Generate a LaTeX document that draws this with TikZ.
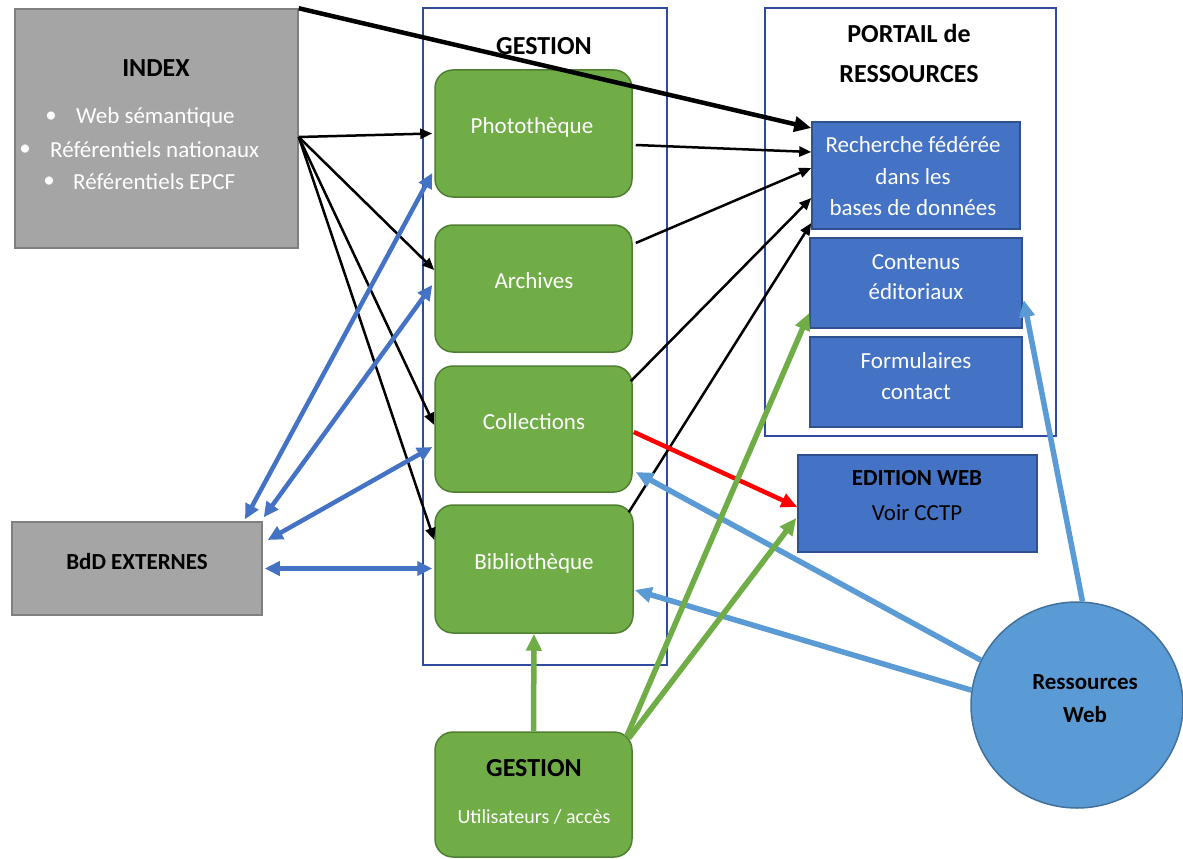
\documentclass[tikz,border=0pt]{standalone}
\usepackage{fontspec}
\setmainfont{Carlito}
\usetikzlibrary{arrows.meta,shapes.geometric}
\definecolor{grayfill}{HTML}{A5A5A5}
\definecolor{grayline}{HTML}{7F7F7F}
\definecolor{gfill}{HTML}{70AD47}
\definecolor{gline}{HTML}{507E32}
\definecolor{bfill}{HTML}{4472C4}
\definecolor{bline}{HTML}{2F528F}
\definecolor{cfill}{HTML}{5B9BD5}
\definecolor{cline}{HTML}{41719C}
\definecolor{framecol}{HTML}{2F4A9E}
\begin{document}
\begin{tikzpicture}[x=1pt,y=-1pt,
  graybox/.style={draw=grayline,fill=grayfill,line width=1.5pt,inner sep=0pt},
  greenbox/.style={draw=gline,fill=gfill,line width=1.5pt,rounded corners=18pt,inner sep=0pt},
  bluebox/.style={draw=bline,fill=bfill,line width=1.5pt,inner sep=0pt},
  framebox/.style={draw=framecol,line width=1.3pt,inner sep=0pt},
  wt/.style={text=white,font=\fontsize{23}{31}\selectfont,inner sep=0pt,align=center},
  bt/.style={text=black,font=\fontsize{23}{31}\selectfont,inner sep=0pt,align=center},
  title/.style={text=black,font=\bfseries\fontsize{26}{40}\selectfont,inner sep=0pt,align=center},
  btitle/.style={text=black,font=\bfseries\fontsize{23}{33}\selectfont,inner sep=0pt,align=center},
  blk/.style={draw=black,line width=2.5pt,-{Triangle[length=12pt,width=10pt]}},
  blkthick/.style={draw=black,line width=4.5pt,-{Triangle[length=17pt,width=15pt]}},
  dbl/.style={draw=bfill,line width=4.5pt,{Triangle[length=15pt,width=14pt]}-{Triangle[length=15pt,width=14pt]}},
  lbl/.style={draw=cfill,line width=5.5pt,-{Triangle[length=17pt,width=15pt]}},
  grn/.style={draw=gfill,line width=5.5pt,-{Triangle[length=17pt,width=15pt]}},
  rd/.style={draw=red,line width=4.5pt,-{Triangle[length=16pt,width=14pt]}}
]
\useasboundingbox (0,0) rectangle (1183,859);
\fill[white] (0,0) rectangle (1183,859);

% containers
\node[framebox,minimum width=244pt,minimum height=657pt] (gframe) at (545,336.5) {};
\node[framebox,minimum width=291pt,minimum height=428pt] (pframe) at (910.5,222) {};
\node[title] (gtitle) at (544,46) {GESTION};
\node[title] (ptitle) at (909,53) {PORTAIL de\\RESSOURCES};

% INDEX
\node[graybox,minimum width=283pt,minimum height=239pt] (index) at (156.5,128.5) {};
\node[title] (indexT) at (156,68) {INDEX};
\node[wt] (b1) at (51,117) {•};
\node[wt] (b2) at (25,150) {•};
\node[wt] (b3) at (49,182) {•};
\node[wt,anchor=west] (i1) at (76,117) {Web sémantique};
\node[wt,anchor=west] (i2) at (50,150) {Référentiels nationaux};
\node[wt,anchor=west] (i3) at (73,182) {Référentiels EPCF};

% BdD
\node[graybox,minimum width=250pt,minimum height=93pt] (bdd) at (137,568.5) {};
\node[btitle] (bddT) at (137,562) {BdD EXTERNES};

% green boxes
\node[greenbox,minimum width=197pt,minimum height=127pt] (photo) at (533.5,133.5) {};
\node[wt] (photoT) at (532,127) {Photothèque};
\node[greenbox,minimum width=197pt,minimum height=127pt] (arch) at (533.5,288.5) {};
\node[wt] (archT) at (534,281) {Archives};
\node[greenbox,minimum width=197pt,minimum height=126pt] (coll) at (533.5,429) {};
\node[wt] (collT) at (534,422) {Collections};
\node[greenbox,minimum width=198pt,minimum height=128pt] (bib) at (534,569) {};
\node[wt] (bibT) at (534,563) {Bibliothèque};
\node[greenbox,minimum width=197pt,minimum height=125pt] (users) at (533.5,794.5) {};
\node[title] (usersT) at (534,768) {GESTION};
\node[wt,font=\fontsize{20}{24}\selectfont] (usersS) at (534,817) {Utilisateurs / accès};

% blue boxes
\node[bluebox,minimum width=208pt,minimum height=107pt] (rech) at (916,175.5) {};
\node[wt,font=\fontsize{23}{31.5}\selectfont] (rechT) at (913,176.5) {Recherche fédérée\\dans les\\bases de données};
\node[bluebox,minimum width=212pt,minimum height=90pt] (cont) at (916,283) {};
\node[wt,font=\fontsize{23}{30}\selectfont] (contT) at (916,277) {Contenus\\éditoriaux};
\node[bluebox,minimum width=212pt,minimum height=90pt] (form) at (916,382) {};
\node[wt,font=\fontsize{23}{31}\selectfont] (formT) at (916,376.5) {Formulaires\\contact};
\node[bluebox,minimum width=239pt,minimum height=97pt] (edit) at (917.5,503.5) {};
\node[btitle] (editT) at (917,478) {EDITION WEB};
\node[bt] (editS) at (917,513) {Voir CCTP};

% circle
\node[ellipse,draw=cline,fill=cfill,line width=1.5pt,minimum width=212pt,minimum height=206pt,inner sep=0pt] (web) at (1077,705) {};
\node[btitle] (webT) at (1085,698.5) {Ressources\\Web};

% black arrows
\draw[blkthick] (index.north east) -- ([yshift=47.5pt]rech.west);
\draw[blk] ([yshift=-8.5pt]index.east) -- ([xshift=-2pt]photo.west);
\draw[blk] ([yshift=-8.5pt]index.east) -- ([yshift=18.5pt]arch.west);
\draw[blk] ([yshift=-8.5pt]index.east) -- ([yshift=4pt]coll.west);
\draw[blk] ([yshift=-8.5pt]index.east) -- ([yshift=29pt]bib.west);
\draw[blk] ([xshift=3pt,yshift=-11.5pt]photo.east) -- ([yshift=23.5pt]rech.west);
\draw[blk] ([xshift=3pt,yshift=45.5pt]arch.east) -- ([yshift=7.5pt]rech.west);
\draw[blk] ([xshift=-2pt,yshift=-16pt]coll.north east) -- ([yshift=-22.5pt]rech.west);
\draw[blk] ([xshift=-5pt,yshift=-8pt]bib.north east) -- ([yshift=-47.5pt]rech.west);

% blue double arrows
\draw[dbl] ([xshift=108pt,yshift=2pt]bdd.north) -- ([xshift=-2pt,yshift=-39.5pt]photo.west);
\draw[dbl] ([xshift=1pt,yshift=4pt]bdd.north east) -- ([xshift=-2pt,yshift=3.5pt]arch.west);
\draw[dbl] ([xshift=5pt,yshift=28.5pt]bdd.east) -- ([xshift=-2pt,yshift=-18pt]coll.west);
\draw[dbl] ([xshift=2pt]bdd.east) -- ([xshift=-2pt,yshift=0.5pt]bib.west);

% red arrow
\draw[rd] ([xshift=1pt,yshift=-3pt]coll.east) -- ([yshift=-3.5pt]edit.west);

% light blue arrows
\draw[lbl] (web.155) -- ([xshift=3pt,yshift=-43pt]coll.east);
\draw[lbl] (web.172) -- ([xshift=1pt,yshift=-21pt]bib.east);
\draw[lbl] (web.87) -- ([xshift=1pt,yshift=-17pt]cont.east);

% green arrows
\draw[grn] (users.north) -- (bib.south);
\draw[grn] ([xshift=-6pt,yshift=-5pt]users.north east) -- ([yshift=-30pt]cont.west);
\draw[grn] ([xshift=-4pt,yshift=-7pt]users.north east) -- ([xshift=-1pt,yshift=-14.5pt]edit.west);
\end{tikzpicture}
\end{document}
